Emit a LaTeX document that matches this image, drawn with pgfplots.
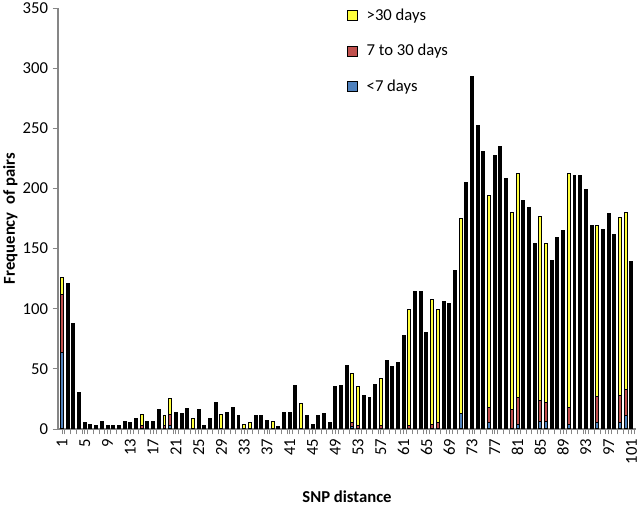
\documentclass[border=0pt]{standalone}
\usepackage{pgfplots}
\pgfplotsset{compat=1.18}
\usepackage{fontspec}
\setmainfont{Carlito}
\definecolor{snpyellow}{RGB}{255,255,60}
\definecolor{snpred}{RGB}{192,80,77}
\definecolor{snpblue}{RGB}{79,129,189}
\definecolor{axisgray}{RGB}{134,134,134}

\begin{document}
\begin{tikzpicture}
\begin{axis}[
  at={(0pt,0pt)}, anchor=south west,
  scale only axis, width=433.5pt, height=315.75pt,
  xmin=0.3, xmax=101.8, ymin=0, ymax=350,
  axis x line*=bottom, axis y line*=left,
  axis line style={axisgray, line width=0.8pt},
  ytick={0,50,...,350},
  xtick={1,5,...,101},
  minor xtick={1.5,2.5,...,101.5},
  tick align=outside, major tick length=4pt, minor tick length=4pt,
  tick style={axisgray, line width=0.6pt},
  xticklabel style={rotate=90, anchor=east},
  every tick label/.append style={font=\fontsize{12.5}{14}\selectfont},
  /pgf/number format/assume math mode=true,
  xlabel={\textbf{SNP distance}},
  ylabel={\textbf{Frequency\ \ of pairs}},
  label style={font=\fontsize{12.5}{14}\selectfont},
  xlabel style={yshift=-13pt},
  ylabel style={yshift=-3pt},
  ybar, bar width=0.52, bar shift=0pt,
  legend style={at={(0.5,1.005)}, anchor=north west, draw=none, fill=none,
    inner sep=0pt, row sep=12.5pt, font=\fontsize{12.5}{14}\selectfont},
  legend cell align=left,
  legend image code/.code={\draw[#1,draw=black,line width=0.6pt] (0pt,-3.7pt) rectangle (7.5pt,3.7pt);},
]
% totals of the bars shown in black
\addplot[fill=black, draw=black, line width=0.75pt, forget plot] coordinates {
 (2,121) (3,88) (4,30) (5,5) (6,4) (7,3) (8,6) (9,3) (10,3) (11,3) (12,6) (13,5) (14,9)
 (16,6) (17,6) (18,16) (21,14) (22,13) (23,17) (25,16) (26,3) (27,9) (28,22)
 (30,14) (31,18) (32,11) (35,11) (36,11) (37,7) (39,2) (40,14) (41,14) (42,36)
 (44,11) (45,4) (46,11) (47,13) (48,5) (49,35) (50,36) (51,53) (54,28) (55,26)
 (56,37) (58,57) (59,52) (60,55) (61,78) (63,114) (64,114) (65,80) (68,106)
 (69,104) (70,132) (72,205) (73,293) (74,252) (75,231) (77,227) (78,235) (79,208)
 (82,190) (83,184) (84,154) (87,140) (88,159) (89,165) (91,211) (92,211) (93,199)
 (94,169) (96,166) (97,179) (98,162) (101,139)
};
% >30 days (bar top = total)
\addplot[fill=snpyellow, draw=black, line width=0.75pt] coordinates {
 (1,126) (15,12) (19,11) (20,25) (24,9) (29,12) (33,4) (34,5) (38,6) (43,21)
 (52,46) (53,35) (57,42) (62,99) (66,108) (67,99) (71,175) (76,194) (80,180)
 (81,212) (85,177) (86,154) (90,212) (95,169) (99,176) (100,180)
};
% 7 to 30 days (bar top = blue + red)
\addplot[fill=snpred, draw=black, line width=0.75pt] coordinates {
 (1,112) (15,3) (19,3) (20,12) (52,5) (53,3) (57,3) (62,3) (66,4) (67,5)
 (76,18) (80,16) (81,26) (85,24) (86,22) (90,18) (95,27) (99,28) (100,33)
};
% <7 days
\addplot[fill=snpblue, draw=black, line width=0.75pt] coordinates {
 (1,64) (20,3) (52,2) (71,13) (76,5) (81,4) (85,6) (86,6) (90,4) (95,5) (99,5) (100,11)
};
\legend{\hspace{4.5pt}>30 days, \hspace{4.5pt}7 to 30 days, \hspace{4.5pt}<7 days}
\end{axis}
\pgfresetboundingbox
\path[use as bounding box] (-43.5pt,-60.75pt) rectangle (436.5pt,321.75pt);
\end{tikzpicture}
\end{document}
